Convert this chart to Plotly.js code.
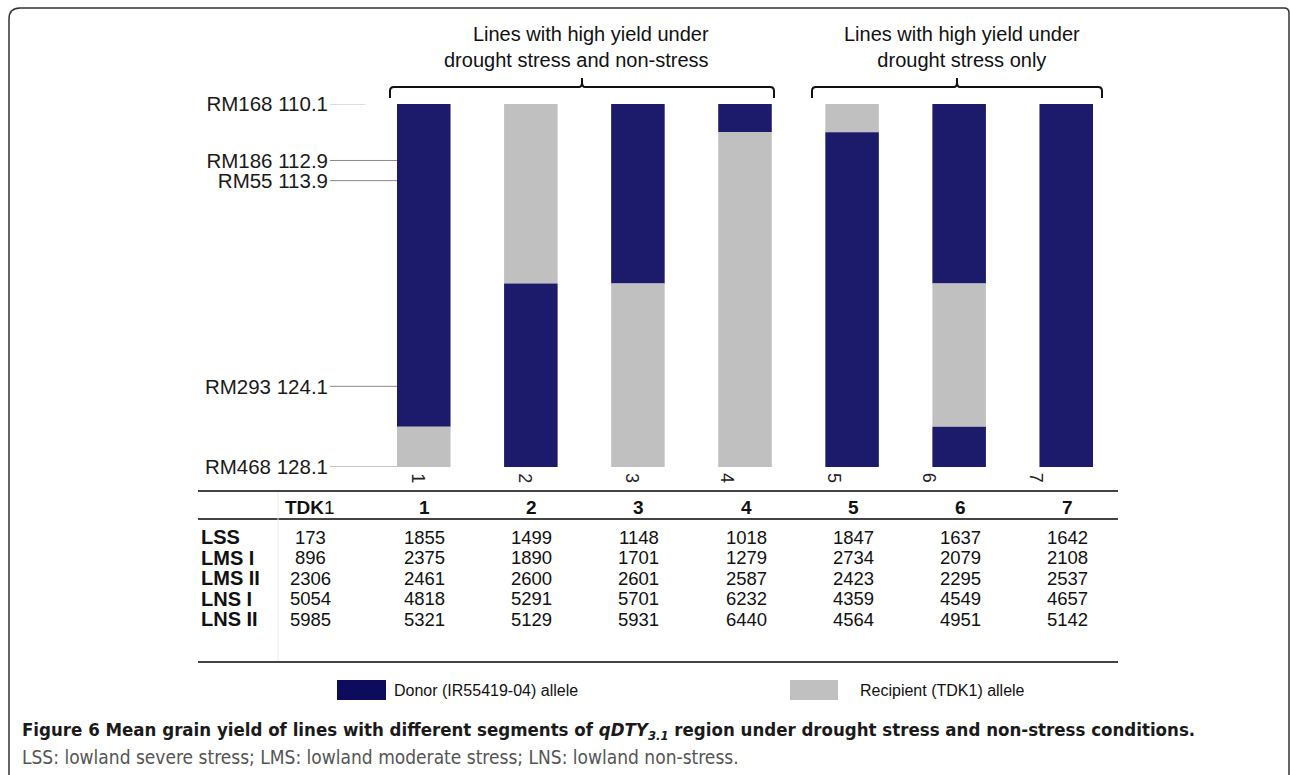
<!DOCTYPE html>
<html>
<head>
<meta charset="utf-8">
<script src="https://cdn.plot.ly/plotly-3.0.1.min.js"></script>
<style>html,body{margin:0;padding:0;background:#fff;}</style>
</head>
<body>
<div id="chart" style="width:1290px;height:775px;"></div>
<script>
// ---------- data ----------
const lineNames = ['1','2','3','4','5','6','7'];
const markerNames = ['RM168','RM186','RM55','RM293','RM468'];
const markerPos = [110.1, 112.9, 113.9, 124.1, 128.1];
// segments along the qDTY3.1 region, top to bottom (cM); D = donor, R = recipient
const seg1Start = [110.1, 110.1, 110.1, 110.1, 110.1, 110.1, 110.1];
const seg1End   = [126.1, 119.0, 119.0, 111.5, 111.5, 119.0, 128.1];
const seg1Allele= ['D','R','D','D','R','D','D'];
const seg2Start = [126.1, 119.0, 119.0, 111.5, 111.5, 119.0, null];
const seg2End   = [128.1, 128.1, 128.1, 128.1, 128.1, 126.1, null];
const seg2Allele= ['R','D','R','R','D','R',null];
const seg3Start = [null, null, null, null, null, 126.1, null];
const seg3End   = [null, null, null, null, null, 128.1, null];
const seg3Allele= [null, null, null, null, null, 'D', null];

const groupTitles = ['Lines with high yield under<br>drought stress and non-stress', 'Lines with high yield under<br>drought stress only'];
const tableCols = ['TDK1','1','2','3','4','5','6','7'];
const rowLabels = ['LSS','LMS I','LMS II','LNS I','LNS II'];
const yLSS   = [173, 1855, 1499, 1148, 1018, 1847, 1637, 1642];
const yLMS1  = [896, 2375, 1890, 1701, 1279, 2734, 2079, 2108];
const yLMS2  = [2306, 2461, 2600, 2601, 2587, 2423, 2295, 2537];
const yLNS1  = [5054, 4818, 5291, 5701, 6232, 4359, 4549, 4657];
const yLNS2  = [5985, 5321, 5129, 5931, 6440, 4564, 4951, 5142];
const legendLabels = ['Donor (IR55419-04) allele', 'Recipient (TDK1) allele'];
const captionTitle = 'Figure 6 Mean grain yield of lines with different segments of <i>qDTY<sub>3.1</sub></i> region under drought stress and non-stress conditions.';
const captionNote = 'LSS: lowland severe stress; LMS: lowland moderate stress; LNS: lowland non-stress.';

// ---------- styling / geometry ----------
const DONOR = '#1b1a6b', RECIP = '#c0c0c0', DONOR_LEG = '#0d0b5c';
const FONT = 'Liberation Sans, Arial, sans-serif';
const CAPFONT = 'DejaVu Sans Condensed, DejaVu Sans, sans-serif';
const L = 397, R = 1093, T = 104, B = 467;
const px = x => (x - L) / (R - L);
const py = y => (B - y) / (B - T);
const xData = lineNames.map((_, i) => i + 1);
const xPx = v => L + (v - 0.75) / 6.5 * (R - L);

function segTrace(starts, ends, alleles) {
  return {
    type: 'bar', x: xData, base: starts,
    y: starts.map((s, i) => (s === null ? null : ends[i] - s)),
    width: 0.5,
    marker: { color: alleles.map(a => a === 'D' ? DONOR : RECIP), line: { width: 0 } },
    showlegend: false, hoverinfo: 'skip'
  };
}
const traces = [
  segTrace(seg1Start, seg1End, seg1Allele),
  segTrace(seg2Start, seg2End, seg2Allele),
  segTrace(seg3Start, seg3End, seg3Allele)
];

const shapes = [];
const annotations = [];

// marker lines
markerPos.forEach((p, i) => {
  shapes.push({ type: 'line', xref: 'paper', yref: 'y', x0: px(330), x1: px(i === 0 ? 365 : 397), y0: p, y1: p,
    line: { color: i === 0 ? '#bbb' : '#8a8a8a', width: 1 } });
});

// line labels (rotated)
lineNames.forEach((n, i) => {
  annotations.push({ xref: 'paper', yref: 'paper', x: px(xPx(xData[i]) - 18), y: py(485), text: n,
    showarrow: false, textangle: 90, font: { family: FONT, size: 18, color: '#222' } });
});

// brackets
function pathFromPx(pts) {
  return pts.map(s => s.replace(/(-?[\d.]+),(-?[\d.]+)/g, (m, a, b) => px(+a).toFixed(5) + ',' + py(+b).toFixed(5))).join(' ');
}
function bracket(x0, x1, yb) {
  const c = (x0 + x1) / 2;
  return pathFromPx([
    `M${x0},${yb + 11}`, `L${x0},${yb + 4}`, `Q${x0},${yb} ${x0 + 4},${yb}`,
    `L${c - 3},${yb}`, `Q${c},${yb} ${c},${yb - 5}`, `L${c},${yb - 9}`,
    `M${c},${yb - 5}`, `Q${c},${yb} ${c + 3},${yb}`,
    `L${x1 - 4},${yb}`, `Q${x1},${yb} ${x1},${yb + 4}`, `L${x1},${yb + 11}`
  ]);
}
shapes.push({ type: 'path', xref: 'paper', yref: 'paper', path: bracket(390, 774, 87), line: { color: '#111', width: 2 } });
shapes.push({ type: 'path', xref: 'paper', yref: 'paper', path: bracket(812, 1102, 87), line: { color: '#111', width: 2 } });
annotations.push({ xref: 'paper', yref: 'paper', x: px(711), y: py(47), xanchor: 'right', yanchor: 'middle', align: 'right',
  text: groupTitles[0], showarrow: false, font: { family: FONT, size: 20, color: '#111' } });
annotations.push({ xref: 'paper', yref: 'paper', x: px(962), y: py(47), xanchor: 'center', yanchor: 'middle', align: 'center',
  text: groupTitles[1], showarrow: false, font: { family: FONT, size: 20, color: '#111' } });

// table
const colPx = [310].concat(xData.map(v => xPx(v) + 1));
const tableRows = [yLSS, yLMS1, yLMS2, yLNS1, yLNS2];
[[491, 2.2], [519, 2], [662, 2.2]].forEach(([y, w]) => {
  shapes.push({ type: 'line', xref: 'paper', yref: 'paper', x0: px(198), x1: px(1118), y0: py(y), y1: py(y), line: { color: '#444', width: w } });
});
shapes.push({ type: 'line', xref: 'paper', yref: 'paper', x0: px(278), x1: px(278), y0: py(492), y1: py(661), line: { color: '#ececec', width: 1 } });
tableCols.forEach((c, j) => {
  const txt = c === 'TDK1' ? '<b>TDK</b>1' : '<b>' + c + '</b>';
  annotations.push({ xref: 'paper', yref: 'paper', x: px(colPx[j]), y: py(507), text: txt, showarrow: false,
    xanchor: 'center', yanchor: 'middle', font: { family: FONT, size: 19, color: '#111' } });
});
rowLabels.forEach((r, i) => {
  const yy = 537 + i * 20.6;
  annotations.push({ xref: 'paper', yref: 'paper', x: px(199), y: py(yy), text: '<b>' + r + '</b>', showarrow: false,
    xanchor: 'left', yanchor: 'middle', font: { family: FONT, size: 20, color: '#111' } });
  tableRows[i].forEach((v, j) => {
    annotations.push({ xref: 'paper', yref: 'paper', x: px(colPx[j]), y: py(yy), text: String(v), showarrow: false,
      xanchor: 'center', yanchor: 'middle', font: { family: FONT, size: 18.5, color: '#111' } });
  });
});

// legend
shapes.push({ type: 'rect', xref: 'paper', yref: 'paper', x0: px(337), x1: px(386), y0: py(680), y1: py(700), fillcolor: DONOR_LEG, line: { width: 0 } });
shapes.push({ type: 'rect', xref: 'paper', yref: 'paper', x0: px(790), x1: px(838), y0: py(680), y1: py(700), fillcolor: RECIP, line: { width: 0 } });
annotations.push({ xref: 'paper', yref: 'paper', x: px(392), y: py(690), xanchor: 'left', yanchor: 'middle', text: legendLabels[0],
  showarrow: false, font: { family: FONT, size: 16, color: '#111' } });
annotations.push({ xref: 'paper', yref: 'paper', x: px(858), y: py(690), xanchor: 'left', yanchor: 'middle', text: legendLabels[1],
  showarrow: false, font: { family: FONT, size: 16, color: '#111' } });

// caption
annotations.push({ xref: 'paper', yref: 'paper', x: px(20), y: py(731), xanchor: 'left', yanchor: 'middle', text: '<b>' + captionTitle + '</b>',
  showarrow: false, font: { family: CAPFONT, size: 18.5, color: '#1a1a1a' } });
annotations.push({ xref: 'paper', yref: 'paper', x: px(20), y: py(757), xanchor: 'left', yanchor: 'middle', text: captionNote,
  showarrow: false, font: { family: CAPFONT, size: 19, color: '#555' } });

// frame
shapes.push({ type: 'path', xref: 'paper', yref: 'paper', line: { color: '#333', width: 1.5 },
  path: pathFromPx(['M9,780', 'L9,19', 'Q9,8 20,8', 'L1284,8', 'Q1289,8 1289,13', 'L1289,780']) });

const layout = {
  width: 1290, height: 775,
  margin: { l: L, r: 1290 - R, t: T, b: 775 - B, pad: 0 },
  paper_bgcolor: '#fff', plot_bgcolor: '#fff',
  barmode: 'overlay',
  showlegend: false,
  xaxis: { range: [0.75, 7.25], visible: false, fixedrange: true },
  yaxis: {
    range: [128.1, 110.1], tickmode: 'array', tickvals: markerPos,
    ticktext: markerNames.map((n, i) => n + ' ' + markerPos[i].toFixed(1)),
    ticks: '', ticklabelstandoff: 68, showgrid: false, zeroline: false, showline: false,
    tickfont: { family: FONT, size: 20.5, color: '#1a1a1a' }, fixedrange: true
  },
  shapes: shapes, annotations: annotations
};
Plotly.newPlot('chart', traces, layout, { displayModeBar: false, staticPlot: true });
</script>
</body>
</html>
